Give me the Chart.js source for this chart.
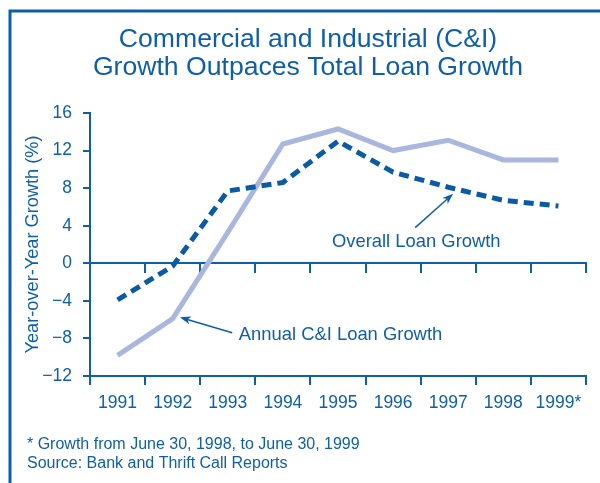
<!DOCTYPE html>
<html>
<head>
<meta charset="utf-8">
<script src="https://cdn.jsdelivr.net/npm/chart.js@4/dist/chart.umd.min.js"></script>
<style>
  html, body { margin: 0; padding: 0; background: #fff; }
</style>
</head>
<body>
<canvas id="loans" width="600" height="483"></canvas>
<script>
const years = ["1991", "1992", "1993", "1994", "1995", "1996", "1997", "1998", "1999*"];
const ciGrowth = [-9.8, -5.9, 3.3, 12.7, 14.3, 12.0, 13.1, 11.0, 11.0];
const overallGrowth = [-3.9, -0.3, 7.7, 8.6, 13.0, 9.7, 8.1, 6.7, 6.1];
const yMin = -12;
const yMax = 16;
const yStep = 4;

const titleLines = ["Commercial and Industrial (C&I)", "Growth Outpaces Total Loan Growth"];
const footnotes = ["* Growth from June 30, 1998, to June 30, 1999", "Source: Bank and Thrift Call Reports"];

const blue = "#0f5fa8";
const dark = "#0a5aa4";
const light = "#a9b7de";
const font = "'Liberation Sans', Arial, sans-serif";

// labels with arrows, in data units (category index, percent)
const notes = [
  { text: "Overall Loan Growth", at: [3.89, 1.7], from: [5.40, 3.8], to: [6.09, 7.4] },
  { text: "Annual C&I Loan Growth", at: [2.20, -8.2], from: [2.08, -7.4], to: [1.13, -5.75] },
];

Chart.defaults.font.family = font;
Chart.defaults.color = blue;

const frame = {
  id: "frame",
  beforeDraw(chart) {
    const c = chart.ctx;
    c.save();
    c.fillStyle = "#fff";
    c.fillRect(0, 0, chart.width, chart.height);
    c.strokeStyle = "#0b5ea8";
    c.lineWidth = 3;
    c.beginPath();
    c.moveTo(10, chart.height);
    c.lineTo(10, 11);
    c.lineTo(chart.width, 11);
    c.stroke();
    c.restore();
  },
};

const texts = {
  id: "texts",
  afterDraw(chart) {
    const c = chart.ctx;
    const x = chart.scales.x, y = chart.scales.y;
    c.save();
    c.fillStyle = blue;
    c.font = "26.6px " + font;
    c.textAlign = "center";
    c.fillText(titleLines[0], 308, 47);
    c.fillText(titleLines[1], 308, 75);

    c.font = "16px " + font;
    c.textAlign = "left";
    c.fillText(footnotes[0], 27, 449);
    c.fillText(footnotes[1], 27, 468);

    c.font = "18.4px " + font;
    c.strokeStyle = blue;
    c.lineWidth = 1.5;
    notes.forEach((n) => {
      c.fillText(n.text, x.getPixelForValue(n.at[0]), y.getPixelForValue(n.at[1]));
      const x1 = x.getPixelForValue(n.from[0]), y1 = y.getPixelForValue(n.from[1]);
      const x2 = x.getPixelForValue(n.to[0]), y2 = y.getPixelForValue(n.to[1]);
      const a = Math.atan2(y2 - y1, x2 - x1);
      c.beginPath();
      c.moveTo(x1, y1);
      c.lineTo(x2 - 6 * Math.cos(a), y2 - 6 * Math.sin(a));
      c.stroke();
      c.beginPath();
      c.moveTo(x2, y2);
      c.lineTo(x2 - 11 * Math.cos(a) + 4 * Math.sin(a), y2 - 11 * Math.sin(a) - 4 * Math.cos(a));
      c.lineTo(x2 - 8 * Math.cos(a), y2 - 8 * Math.sin(a));
      c.lineTo(x2 - 11 * Math.cos(a) - 4 * Math.sin(a), y2 - 11 * Math.sin(a) + 4 * Math.cos(a));
      c.closePath();
      c.fill();
    });
    c.restore();
  },
};

const tickGrid = { offset: true, drawOnChartArea: false, color: blue, lineWidth: 2, tickLength: 9 };

new Chart(document.getElementById("loans"), {
  type: "line",
  data: {
    labels: years,
    datasets: [
      {
        label: "Overall Loan Growth",
        data: overallGrowth,
        borderColor: dark,
        backgroundColor: dark,
        borderWidth: 5,
        borderDash: [10, 6],
        borderCapStyle: "butt",
        pointRadius: 0,
        tension: 0,
        order: 0,
      },
      {
        label: "Annual C&I Loan Growth",
        data: ciGrowth,
        borderColor: light,
        backgroundColor: light,
        borderWidth: 5,
        pointRadius: 0,
        tension: 0,
        order: 1,
      },
    ],
  },
  options: {
    responsive: false,
    animation: false,
    devicePixelRatio: 1,
    layout: { padding: { top: 113, left: 14, right: 14, bottom: 0 } },
    plugins: {
      legend: { display: false },
      tooltip: { enabled: false },
    },
    scales: {
      x: {
        offset: true,
        grid: tickGrid,
        border: { color: blue, width: 2 },
        ticks: { color: blue, font: { size: 17.5 }, padding: 8, maxRotation: 0, autoSkip: false },
        afterFit: (s) => { s.height = 107; },
      },
      x2: {
        type: "category",
        position: { y: 0 },
        offset: true,
        grid: tickGrid,
        border: { color: blue, width: 2 },
        ticks: { display: false },
      },
      y: {
        min: yMin,
        max: yMax,
        ticks: {
          stepSize: yStep,
          color: blue,
          font: { size: 17.5 },
          padding: 11,
          callback: (v) => String(v).replace("-", "\u2212"),
        },
        grid: { drawOnChartArea: false, color: blue, tickColor: blue, lineWidth: 2, tickLength: 7 },
        border: { color: blue, width: 2 },
        title: {
          display: true,
          text: "Year-over-Year Growth (%)",
          color: blue,
          font: { size: 18.2 },
          padding: { top: 8, bottom: 0 },
        },
        afterFit: (s) => { s.width = 76; },
      },
    },
  },
  plugins: [frame, texts],
});
</script>
</body>
</html>
